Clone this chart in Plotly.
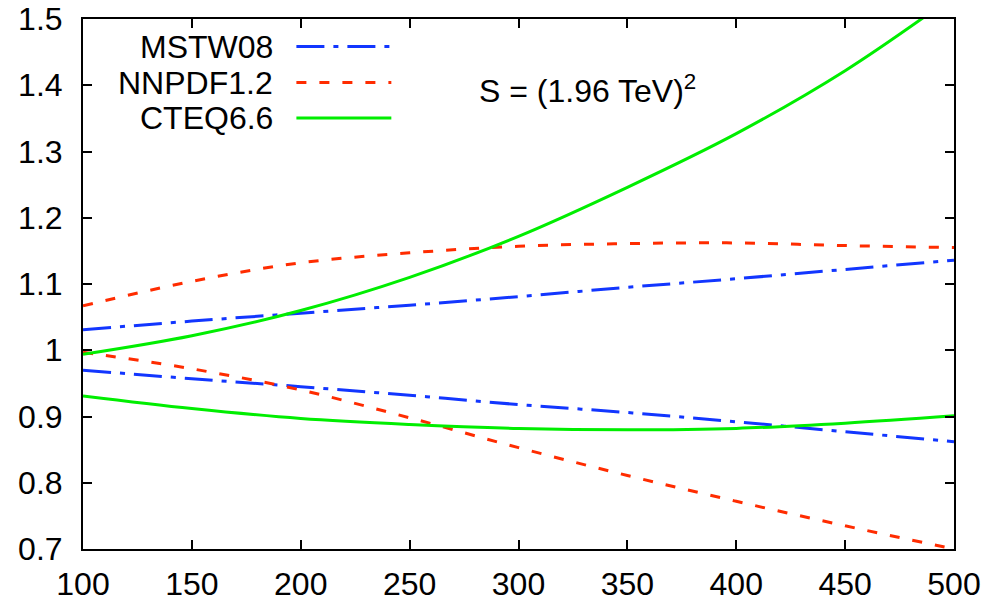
import plotly.graph_objects as go

# sqrt(s-hat) grid and PDF-uncertainty band edges (ratio to central value)
mass = [100, 150, 200, 250, 300, 350, 400, 450, 500]

mstw_up = [1.031, 1.044, 1.056, 1.068, 1.081, 1.095, 1.108, 1.122, 1.136]
mstw_dn = [0.970, 0.957, 0.945, 0.932, 0.918, 0.906, 0.892, 0.877, 0.862]

nnpdf_up = [1.067, 1.104, 1.132, 1.147, 1.157, 1.161, 1.162, 1.158, 1.155]
nnpdf_dn = [0.997, 0.972, 0.940, 0.898, 0.853, 0.811, 0.772, 0.735, 0.700]

cteq_up = [0.994, 1.022, 1.060, 1.110, 1.172, 1.246, 1.327, 1.422, 1.535]
cteq_dn = [0.931, 0.912, 0.897, 0.888, 0.882, 0.880, 0.882, 0.890, 0.901]

x_ticks = [100, 150, 200, 250, 300, 350, 400, 450, 500]
y_ticks = [0.7, 0.8, 0.9, 1.0, 1.1, 1.2, 1.3, 1.4, 1.5]
y_tick_text = ["0.7", "0.8", "0.9", "1", "1.1", "1.2", "1.3", "1.4", "1.5"]

series_names = ["MSTW08", "NNPDF1.2", "CTEQ6.6"]

BLUE = "#1236ff"
RED = "#ff2c00"
GREEN = "#00ee00"
DASHDOT = "28px,9px,5px,9px"
DASHED = "10px,13px"
FONT = "Liberation Sans, Arial, Helvetica, sans-serif"
FS = 32

styles = [
    (BLUE, DASHDOT, mstw_up, mstw_dn),
    (RED, DASHED, nnpdf_up, nnpdf_dn),
    (GREEN, "solid", cteq_up, cteq_dn),
]

fig = go.Figure()
for name, (color, dash, up, dn) in zip(series_names, styles):
    for ys in (up, dn):
        fig.add_trace(go.Scatter(
            x=mass, y=ys, mode="lines", name=name, showlegend=False,
            line=dict(color=color, width=3, dash=dash, shape="spline", smoothing=1.0),
            hoverinfo="skip",
        ))

# Hand-built key: right-aligned labels followed by line samples
key_rows_y = [0.948, 0.880, 0.813]
for name, (color, dash, _, _), ky in zip(series_names, styles, key_rows_y):
    fig.add_annotation(
        xref="paper", yref="paper", x=0.220, y=ky, text=name,
        showarrow=False, xanchor="right", yanchor="middle",
        font=dict(family=FONT, size=FS, color="black"),
    )
    fig.add_shape(
        type="line", xref="paper", yref="paper",
        x0=0.245, x1=0.354, y0=ky, y1=ky,
        line=dict(color=color, width=3, dash=dash),
    )

fig.add_annotation(
    xref="paper", yref="paper", x=0.452, y=0.868,
    text="S = (1.96 TeV)<sup>2</sup>", showarrow=False,
    xanchor="left", yanchor="middle",
    font=dict(family=FONT, size=FS, color="black"),
)

axis_common = dict(
    showline=True, linecolor="black", linewidth=2, mirror="ticks",
    ticks="inside", ticklen=9, tickwidth=1.5, tickcolor="black",
    showgrid=False, zeroline=False, automargin=False,
    tickfont=dict(family=FONT, size=FS, color="black"),
)

fig.update_layout(
    width=990, height=606,
    margin=dict(l=83, r=36, t=19, b=57),
    paper_bgcolor="white", plot_bgcolor="white",
    showlegend=False,
    xaxis=dict(range=[100, 500], tickvals=x_ticks,
               ticktext=[str(v) for v in x_ticks], ticklabelstandoff=6, **axis_common),
    yaxis=dict(range=[0.7, 1.5], tickvals=y_ticks, ticktext=y_tick_text,
               ticklabelstandoff=12, **axis_common),
)

fig.write_html("out.html")
